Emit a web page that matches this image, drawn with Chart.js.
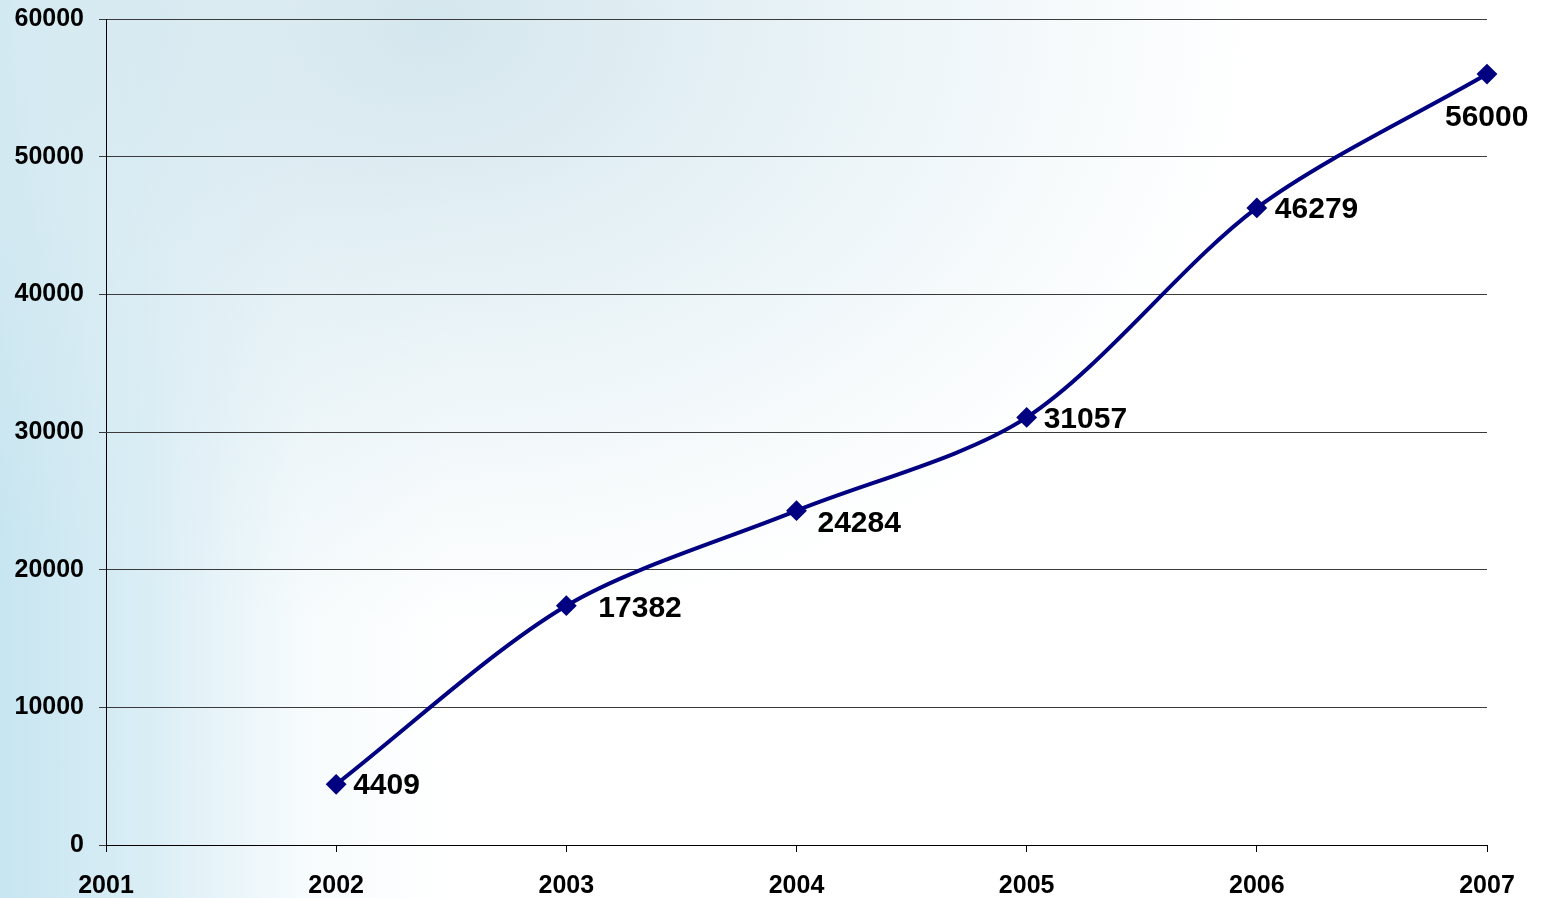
<!DOCTYPE html>
<html>
<head>
<meta charset="utf-8">
<script src="https://cdn.jsdelivr.net/npm/chart.js@4/dist/chart.umd.min.js"></script>
<style>
  html, body { margin: 0; padding: 0; }
  body {
    width: 1545px; height: 898px; overflow: hidden;
    background:
      radial-gradient(ellipse 820px 600px at 28% 3%, rgba(208,228,236,0.9) 0%, rgba(220,236,242,0.6) 50%, rgba(255,255,255,0) 100%),
      linear-gradient(90deg, rgba(196,228,240,0.95) 0px, rgba(206,232,242,0.75) 150px, rgba(230,243,248,0.35) 300px, rgba(255,255,255,0) 450px),
      #ffffff;
  }
  #wrap { position: absolute; left: 0; top: 0; width: 1545px; height: 898px; }
</style>
</head>
<body>
<div id="wrap"><canvas id="c" width="1545" height="898"></canvas></div>
<script>
const categories = ['2001', '2002', '2003', '2004', '2005', '2006', '2007'];
const values = [null, 4409, 17382, 24284, 31057, 46279, 56000];
const yTicks = [0, 10000, 20000, 30000, 40000, 50000, 60000];

// label placement (style only): offset of label's left edge / vertical centre from the point
const labelOffsets = [null, [17, 0], [32, 2], [21, 12], [17, 1], [18, 1], [-42, 43]];

const FONT = '"Liberation Sans", Arial, sans-serif';

const dataLabels = {
  id: 'dataLabels',
  afterDatasetsDraw(chart) {
    const ctx = chart.ctx;
    const meta = chart.getDatasetMeta(0);
    ctx.save();
    ctx.font = 'bold 30px ' + FONT;
    ctx.fillStyle = '#000000';
    ctx.textAlign = 'left';
    ctx.textBaseline = 'middle';
    meta.data.forEach((pt, i) => {
      const v = values[i];
      if (v === null || !labelOffsets[i]) return;
      ctx.fillText(String(v), pt.x + labelOffsets[i][0], pt.y + labelOffsets[i][1] + 1);
    });
    ctx.restore();
  }
};

new Chart(document.getElementById('c'), {
  type: 'line',
  data: {
    labels: categories,
    datasets: [{
      data: values,
      borderColor: '#000080',
      backgroundColor: '#000080',
      borderWidth: 4,
      tension: 0.3,
      pointStyle: 'rectRot',
      pointRadius: 9,
      pointBorderWidth: 2,
      pointBorderColor: '#000080',
      pointBackgroundColor: '#000080',
      fill: false
    }]
  },
  options: {
    responsive: false,
    animation: false,
    layout: { padding: { left: 0, right: 58, top: 19, bottom: 0 } },
    plugins: { legend: { display: false }, tooltip: { enabled: false } },
    scales: {
      x: {
        type: 'category',
        offset: false,
        afterFit(scale) { scale.height = 53; scale.paddingLeft = 0; scale.paddingRight = 0; },
        grid: { drawOnChartArea: false, drawTicks: true, tickLength: 7, color: '#000000', lineWidth: 1 },
        border: { display: true, color: '#000000', width: 1 },
        ticks: { color: '#000000', font: { family: FONT, size: 25, weight: 'bold' }, padding: 19, maxRotation: 0, autoSkip: false }
      },
      y: {
        min: 0, max: 60000,
        afterFit(scale) { scale.width = 106; scale.paddingTop = 0; scale.paddingBottom = 0; },
        afterBuildTicks(scale) { scale.ticks = yTicks.map(v => ({ value: v })); },
        grid: { color: '#3a3a3a', lineWidth: 1, tickLength: 7, drawTicks: true },
        border: { display: true, color: '#000000', width: 1 },
        ticks: {
          color: '#000000', font: { family: FONT, size: 25, weight: 'bold' }, padding: 15,
          callback: (v) => String(v)
        }
      }
    }
  },
  plugins: [dataLabels]
});
</script>
</body>
</html>
